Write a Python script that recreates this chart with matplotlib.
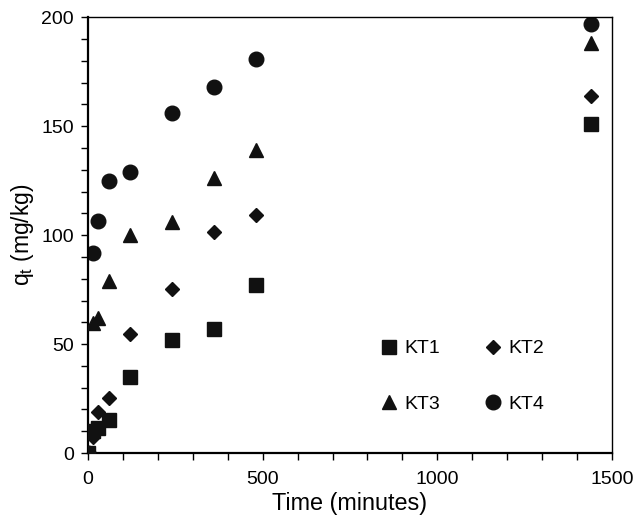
import matplotlib
matplotlib.use('Agg')
import matplotlib.pyplot as plt
from matplotlib.ticker import MultipleLocator

plt.rcParams['font.family'] = ['Liberation Sans', 'DejaVu Sans']

# contact time (minutes)
time = [0, 15, 30, 60, 120, 240, 360, 480, 1440]

# sorbed amount q_t (mg/kg)
kt1 = [0, 10, 11.5, 15, 35, 52, 57, 77, 151]
kt2 = [0, 7.5, 19, 25.5, 54.5, 75.5, 101.5, 109, 164]
kt3 = [0, 59.5, 62, 79, 100, 106, 126, 139, 188]
kt4 = [0, 92, 106.5, 125, 129, 156, 168, 181, 197]

names = ['KT1', 'KT2', 'KT3', 'KT4']
series = [kt1, kt2, kt3, kt4]
markers = ['s', 'D', '^', 'o']
sizes = [10, 7, 10, 10.5]

fig = plt.figure(figsize=(6.41, 5.19), dpi=100)
ax = fig.add_axes([0.137, 0.127, 0.818, 0.840])

handles = []
for i in range(len(series)):
    h, = ax.plot(time, series[i], linestyle='none', marker=markers[i], markersize=sizes[i],
                 color='#111111', label=names[i], zorder=5 - i if i else 6)
    handles.append(h)

ax.set_xlim(0, 1500)
ax.set_ylim(0, 200)
ax.xaxis.set_major_locator(MultipleLocator(500))
ax.xaxis.set_minor_locator(MultipleLocator(100))
ax.yaxis.set_major_locator(MultipleLocator(50))
ax.yaxis.set_minor_locator(MultipleLocator(10))
ax.tick_params(which='both', direction='out', length=5, width=1, top=False, right=False,
               labelsize=14)
ax.tick_params(axis='x', which='major', pad=8)
ax.tick_params(axis='y', which='major', pad=5)
for s in ax.spines.values():
    s.set_linewidth(1.0)
ax.spines['left'].set_linewidth(1.6)
ax.spines['bottom'].set_linewidth(1.6)

ax.set_xlabel('Time (minutes)', fontsize=16.8, labelpad=3)
ax.set_ylabel('q$_\\mathregular{t}$ (mg/kg)', fontsize=16.5, labelpad=4)

# ncol=2 fills by column, so order handles to get KT1 KT2 / KT3 KT4 rows
order = [0, 2, 1, 3]
ax.legend([handles[k] for k in order], [names[k] for k in order],
          ncol=2, frameon=False, loc='upper left', bbox_to_anchor=(0.56, 0.26),
          borderpad=0, borderaxespad=0, numpoints=1, handlelength=0.8,
          handletextpad=0.4, columnspacing=2.3, labelspacing=1.95, fontsize=14)

fig.savefig('out.png', dpi=100)
